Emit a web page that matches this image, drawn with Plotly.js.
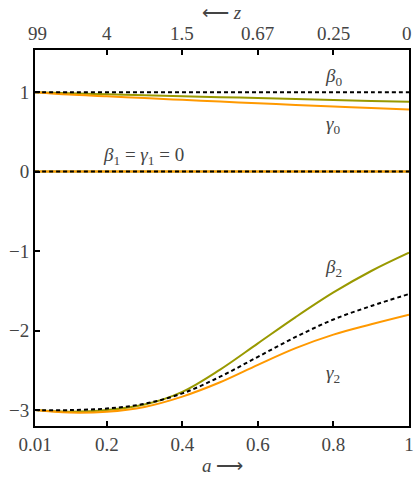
<!DOCTYPE html>
<html>
<head>
<meta charset="utf-8">
<script src="https://cdn.plot.ly/plotly-3.0.1.min.js"></script>
</head>
<body style="margin:0">
<div id="chart" style="width:415px;height:478px"></div>
<script>
// scale factor a
const a = [0.01, 0.1, 0.2, 0.3, 0.4, 0.5, 0.6, 0.7, 0.8, 0.9, 1.0];
// zeroth order
const ref0   = [1, 1, 1, 1, 1, 1, 1, 1, 1, 1, 1];
const beta0  = [1.0, 0.985, 0.972, 0.960, 0.948, 0.937, 0.925, 0.913, 0.901, 0.889, 0.878];
const gamma0 = [1.0, 0.970, 0.948, 0.925, 0.903, 0.881, 0.860, 0.839, 0.819, 0.800, 0.782];
// first order
const ref1   = [0, 0, 0, 0, 0, 0, 0, 0, 0, 0, 0];
const beta1  = [0, 0, 0, 0, 0, 0, 0, 0, 0, 0, 0];
const gamma1 = [0, 0, 0, 0, 0, 0, 0, 0, 0, 0, 0];
// second order
const ref2   = [-3.0, -3.0, -2.98, -2.92, -2.79, -2.58, -2.33, -2.08, -1.86, -1.69, -1.54];
const beta2  = [-3.0, -3.02, -3.0, -2.93, -2.77, -2.49, -2.16, -1.83, -1.52, -1.25, -1.02];
const gamma2 = [-3.0, -3.03, -3.02, -2.96, -2.83, -2.65, -2.43, -2.22, -2.05, -1.92, -1.80];

// ticks
const aTicks = [0.01, 0.2, 0.4, 0.6, 0.8, 1];
const aTickText = ["0.01", "0.2", "0.4", "0.6", "0.8", "1"];
const zTickText = ["99", "4", "1.5", "0.67", "0.25", "0"];
const yTicks = [-3, -2, -1, 0, 1];
const yTickText = ["\u22123", "\u22122", "\u22121", "0", "1"];

const GREEN = "#999900";
const ORANGE = "#ff9900";

function mkFont() { return {family: "Liberation Serif", size: 19}; }

function mkLine(y, color, dash) {
  return {x: a, y: y, type: "scatter", mode: "lines", hoverinfo: "skip",
    line: {color: color, width: 2, dash: dash || "solid", shape: "spline", smoothing: 1}};
}

const traces = [
  mkLine(beta0, GREEN), mkLine(gamma0, ORANGE), mkLine(ref0, "#000", "4px,3px"),
  mkLine(beta1, GREEN), mkLine(gamma1, ORANGE), mkLine(ref1, "#000", "4px,3px"),
  mkLine(beta2, GREEN), mkLine(gamma2, ORANGE), mkLine(ref2, "#000", "4px,3px")
];

const B = "<i>\u03b2</i>", G = "<i>\u03b3</i>";
const annotations = [
  {text: "<i>a</i> \u27F6", xref: "paper", yref: "paper", x: 0.5, y: -0.106, yanchor: "middle", showarrow: false, font: mkFont()},
  {text: "\u27F5 <i>z</i>", xref: "paper", yref: "paper", x: 0.5, y: 1.101, yanchor: "middle", showarrow: false, font: mkFont()},
  {text: B + "<sub>0</sub>", x: 0.8, y: 1.19, showarrow: false, font: mkFont()},
  {text: G + "<sub>0</sub>", x: 0.8, y: 0.585, showarrow: false, font: mkFont()},
  {text: B + "<sub>1</sub> = " + G + "<sub>1</sub> = 0", x: 0.296, y: 0.2, showarrow: false, font: mkFont()},
  {text: B + "<sub>2</sub>", x: 0.8, y: -1.21, showarrow: false, font: mkFont()},
  {text: G + "<sub>2</sub>", x: 0.8, y: -2.55, showarrow: false, font: mkFont()}
];
// top axis (redshift z) labels at the same a positions
aTicks.forEach(function (v, i) {
  annotations.push({text: zTickText[i], x: v, xref: "x", yref: "paper", y: 1.045, yanchor: "middle",
    xanchor: i === aTicks.length - 1 ? "right" : (i === 0 ? "left" : "center"),
    xshift: i === aTicks.length - 1 ? 5 : (i === 0 ? -9 : 0),
    showarrow: false, font: mkFont()});
});

const layout = {
  width: 415, height: 478,
  margin: {l: 35, r: 6, t: 50, b: 52},
  paper_bgcolor: "#fff", plot_bgcolor: "#fff",
  showlegend: false,
  font: {family: "Liberation Serif", size: 19},
  xaxis: {range: [0.01, 1], tickmode: "array", tickvals: aTicks, ticktext: aTickText,
    ticks: "inside", ticklen: 5, tickwidth: 1.5, tickcolor: "#000",
    showline: true, linecolor: "#000", linewidth: 2, mirror: "ticks",
    showgrid: false, zeroline: false, tickfont: mkFont()},
  yaxis: {range: [-3.2, 1.53], tickmode: "array", tickvals: yTicks, ticktext: yTickText,
    ticks: "inside", ticklen: 5, tickwidth: 1.5, tickcolor: "#000",
    showline: true, linecolor: "#000", linewidth: 2, mirror: true,
    showgrid: false, zeroline: false, tickfont: mkFont()},
  annotations: annotations
};

Plotly.newPlot("chart", traces, layout, {displayModeBar: false});
</script>
</body>
</html>
